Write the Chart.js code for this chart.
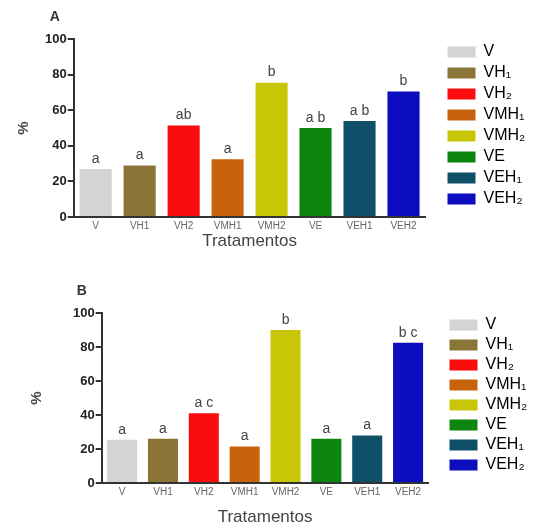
<!DOCTYPE html>
<html>
<head>
<meta charset="utf-8">
<script src="https://cdn.jsdelivr.net/npm/chart.js@4.4.1/dist/chart.umd.min.js"></script>
<style>
  html, body { margin: 0; padding: 0; background: #fff; }
  body { width: 538px; height: 524px; position: relative; overflow: hidden; }
  .panel { position: absolute; left: 0; width: 538px; }
  #panelA { top: 0; height: 258px; }
  #panelB { top: 262px; height: 262px; }
</style>
</head>
<body>
<div class="panel" id="panelA"><canvas id="chartA"></canvas></div>
<div class="panel" id="panelB"><canvas id="chartB"></canvas></div>
<script>
// treatments on the x axis
var categories = ['V', 'VH1', 'VH2', 'VMH1', 'VMH2', 'VE', 'VEH1', 'VEH2'];
// legend names (with subscripts)
var legendNames = ['V', 'VH\u2081', 'VH\u2082', 'VMH\u2081', 'VMH\u2082', 'VE', 'VEH\u2081', 'VEH\u2082'];

// panel A
var valuesA = [27, 29, 51.5, 32.5, 75.5, 50, 54, 70.5];
var lettersA = ['a', 'a', 'ab', 'a', 'b', 'a b', 'a b', 'b'];

// panel B
var valuesB = [25.5, 26, 41, 21.5, 90, 26, 28, 82.5];
var lettersB = ['a', 'a', 'a c', 'a', 'b', 'a', 'a', 'b c'];

var yTicks = [0, 20, 40, 60, 80, 100];

var barColors = ['#d4d4d4', '#8a7536', '#fb0d0d', '#c9620c', '#c9c607', '#0c860f', '#0f5068', '#0c0dbf'];

var FONT = '"Liberation Sans", Arial, sans-serif';

// draws the significance letters above the bars and the panel letter
var lettersPlugin = {
    id: 'barLetters',
    afterDatasetsDraw: function(chart, args, opts) {
        var ctx = chart.ctx;
        var meta = chart.getDatasetMeta(0);
        ctx.save();
        ctx.fillStyle = '#444';
        ctx.font = '14px ' + FONT;
        ctx.textAlign = 'center';
        ctx.textBaseline = 'bottom';
        meta.data.forEach(function(bar, i) {
            ctx.fillText(opts.letters[i], bar.x, bar.y - 3);
        });
        ctx.font = 'bold 14px ' + FONT;
        ctx.fillStyle = '#333';
        ctx.textAlign = 'left';
        ctx.fillText(opts.panel, chart.chartArea.left + opts.panelDx, chart.chartArea.top + opts.panelDy);
        ctx.restore();
    }
};

function makeChart(id, values, letters, panel, cfg) {
    var ctx = document.getElementById(id).getContext('2d');
    return new Chart(ctx, {
        type: 'bar',
        data: {
            labels: categories,
            datasets: [{
                label: panel,
                data: values,
                backgroundColor: barColors,
                borderWidth: 0,
                categoryPercentage: 1,
                barPercentage: cfg.barPct
            }]
        },
        plugins: [lettersPlugin],
        options: {
            responsive: true,
            maintainAspectRatio: false,
            animation: false,
            layout: { padding: cfg.padding },
            plugins: {
                tooltip: { enabled: false },
                barLetters: { letters: letters, panel: panel, panelDx: cfg.panelDx, panelDy: cfg.panelDy },
                legend: {
                    position: 'right',
                    align: 'start',
                    labels: {
                        boxWidth: 28,
                        boxHeight: 11,
                        padding: cfg.legendPad,
                        color: '#333',
                        font: { size: 16, family: FONT },
                        generateLabels: function(chart) {
                            return legendNames.map(function(name, i) {
                                return {
                                    text: name,
                                    fillStyle: barColors[i],
                                    strokeStyle: barColors[i],
                                    lineWidth: 0,
                                    hidden: false,
                                    index: i
                                };
                            });
                        }
                    }
                }
            },
            scales: {
                x: {
                    grid: { display: false, drawTicks: false },
                    border: { display: true, color: '#333', width: 2 },
                    ticks: {
                        color: '#666',
                        font: { size: 10, family: FONT, lineHeight: 1 },
                        maxRotation: 0,
                        autoSkip: false,
                        padding: 4
                    },
                    title: {
                        display: true,
                        text: 'Tratamentos',
                        color: '#444',
                        font: { size: 17, family: FONT, lineHeight: 0.7 },
                        padding: cfg.xTitlePad
                    }
                },
                y: {
                    min: 0,
                    max: 100,
                    afterBuildTicks: function(axis) {
                        axis.ticks = yTicks.map(function(v) { return { value: v }; });
                    },
                    grid: {
                        drawOnChartArea: false,
                        drawTicks: true,
                        tickLength: 6,
                        color: '#333',
                        lineWidth: 2
                    },
                    border: { display: true, color: '#333', width: 2 },
                    ticks: {
                        color: '#222',
                        padding: 1,
                        font: { size: 13, weight: 'bold', family: FONT }
                    },
                    title: {
                        display: true,
                        text: '%',
                        color: '#444',
                        font: { size: 15, weight: 'bold', family: FONT },
                        padding: cfg.yTitlePad
                    }
                },
                // empty spacer between plot and legend
                gap: {
                    axis: 'y',
                    type: 'linear',
                    position: 'right',
                    grid: { display: false, drawTicks: false },
                    border: { display: false },
                    ticks: { display: false },
                    afterFit: function(axis) { axis.width = cfg.gap; }
                }
            }
        }
    });
}

makeChart('chartA', valuesA, lettersA, 'A', {
    barPct: 0.73,
    padding: { left: 15, top: 39, right: 10, bottom: 11 },
    legendPad: 5,
    gap: 17,
    xTitlePad: { top: 0, bottom: 0 },
    yTitlePad: { top: 0, bottom: 11 },
    panelDx: -24,
    panelDy: -15
});

makeChart('chartB', valuesB, lettersB, 'B', {
    barPct: 0.735,
    padding: { left: 28, top: 51, right: 9, bottom: 1 },
    legendPad: 4,
    gap: 17,
    xTitlePad: { top: 10, bottom: 0 },
    yTitlePad: { top: 0, bottom: 26 },
    panelDx: -25,
    panelDy: -15
});
</script>
</body>
</html>
